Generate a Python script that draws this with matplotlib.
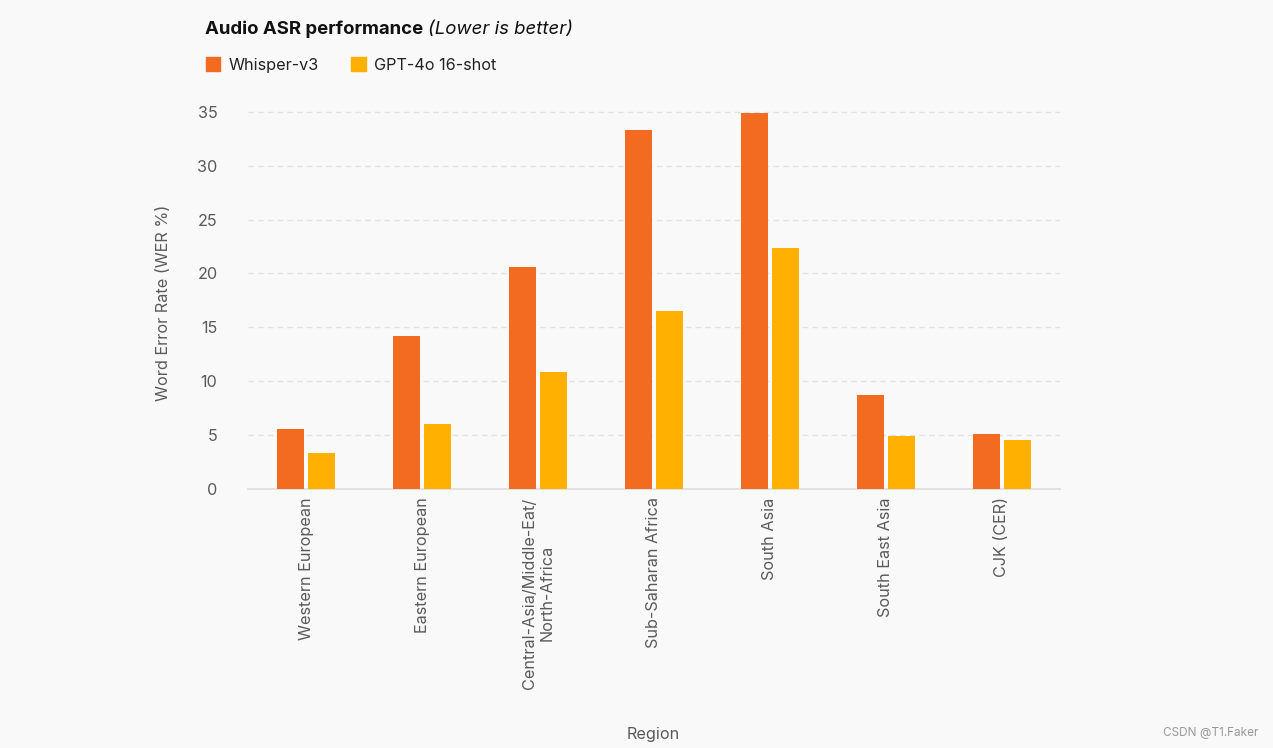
import numpy as np
import matplotlib
matplotlib.use('Agg')
import matplotlib.pyplot as plt
from matplotlib.patches import Patch

# 数据
regions = ['Western European', 'Eastern European', 'Central-Asia/Middle-Eat/\nNorth-Africa',
           'Sub-Saharan Africa', 'South Asia', 'South East Asia', 'CJK (CER)']
whisper_v3 = [5.6, 14.2, 20.6, 33.3, 34.9, 8.7, 5.1]
gpt4o_16shot = [3.3, 6.0, 10.9, 16.5, 22.4, 4.9, 4.5]
series_names = ['Whisper-v3', 'GPT-4o 16-shot']

bg = '#f9f9f9'
c_whisper = '#f26b21'
c_gpt = '#ffb000'
txt_gray = '#5a5a5a'

plt.rcParams['font.family'] = ['Inter', 'DejaVu Sans']

fig = plt.figure(figsize=(12.73, 7.48), dpi=100, facecolor=bg)
ax = fig.add_axes([248 / 1273, 1 - 489 / 748, (1060 - 248) / 1273, (489 - 101) / 748])
ax.set_facecolor(bg)

x = np.arange(len(regions))
w = 0.233
gap = 0.013
ax.bar(x - w / 2 - gap, whisper_v3, width=w, color=c_whisper, zorder=3)
ax.bar(x + w / 2 + gap, gpt4o_16shot, width=w, color=c_gpt, zorder=3)

ax.set_xlim(-0.5, len(regions) - 0.5)
ax.set_ylim(0, 36)
ax.set_yticks(range(0, 36, 5))
ax.yaxis.grid(True, linestyle=(0, (4, 3)), color='#e2e2e2', linewidth=1, zorder=0)
ax.set_xticks(x)
ax.set_xticklabels(regions, rotation=90, ha='center', va='top', multialignment='center')

for s in ['top', 'right', 'left']:
    ax.spines[s].set_visible(False)
ax.spines['bottom'].set_color('#dddddd')
ax.spines['bottom'].set_linewidth(1.2)
ax.tick_params(axis='both', length=0, labelsize=11.7, labelcolor=txt_gray)
ax.tick_params(axis='y', pad=22)
ax.tick_params(axis='x', pad=6)

ax.set_ylabel('Word Error Rate (WER %)', fontsize=11.7, color=txt_gray)
ax.yaxis.set_label_coords(-0.095, 0.48)
fig.text(653 / 1273, 1 - 734 / 748, 'Region', fontsize=11.7, color=txt_gray, ha='center', va='center')

# 标题
t1 = fig.text(205 / 1273, 1 - 29 / 748, 'Audio ASR performance', fontsize=13.4, fontweight='bold',
              color='#111111', va='center', ha='left')
fig.canvas.draw()
bb = t1.get_window_extent(fig.canvas.get_renderer())
fig.text((bb.x1 + 5) / 1273, 1 - 29 / 748, '(Lower is better)', fontsize=13.4, fontstyle='italic',
         color='#111111', va='center', ha='left')

# 图例
handles = [Patch(color=c_whisper), Patch(color=c_gpt)]
fig.legend(handles, series_names, loc='center left', bbox_to_anchor=(191 / 1273, 1 - 65 / 748),
           ncol=2, frameon=False, handlelength=0.9, handleheight=0.9, handletextpad=0.5,
           columnspacing=2.0, fontsize=11.7, labelcolor='#222222')

fig.text(1258 / 1273, 1 - 733 / 748, 'CSDN @T1.Faker', fontsize=8.5, color='#999999',
         ha='right', va='center')

fig.savefig('out.png', dpi=100, facecolor=bg)
